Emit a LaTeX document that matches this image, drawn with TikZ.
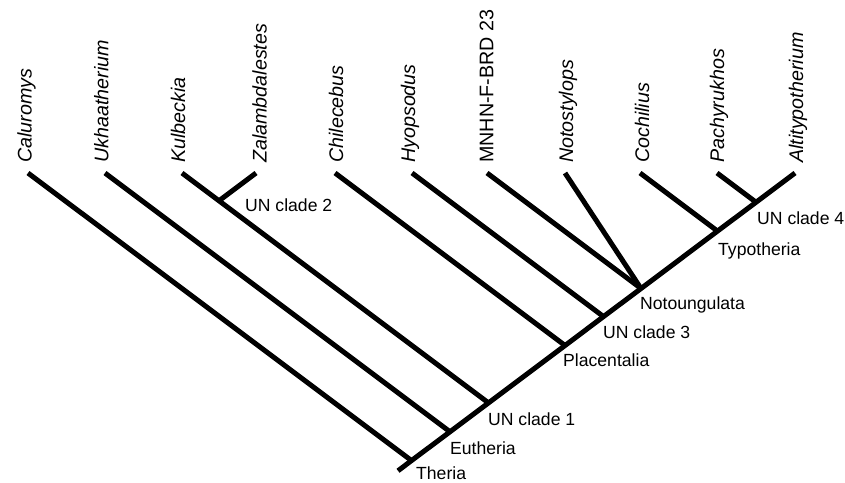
\documentclass[tikz,border=0pt]{standalone}
\usepackage{fontspec}
\setmainfont{Liberation Sans}
\usetikzlibrary{positioning,calc}

\tikzset{
  branch/.style={line width=5pt},
  taxon/.style={rotate=90,anchor=base west,inner sep=0pt,font=\fontsize{19.7}{22}\selectfont},
  clade/.style={anchor=north west,inner sep=0pt,font=\fontsize{17.6}{20}\selectfont},
}

\begin{document}
\begin{tikzpicture}[x=1pt,y=-1pt]
    \useasboundingbox (0,0) rectangle (845,482);
    % Tips
    \foreach \n/\x in {cal/28,ukh/105,kul/182,zal/256,chi/335,hyo/412,mnhn/487,not/565,coc/640,pac/717,alt/795} {
        \coordinate (\n) at (\x,173);
    }
    % Tip labels
    \foreach \n/\x/\t in {cal/31.7/\textit{Caluromys},ukh/108.3/\textit{Ukhaatherium},kul/185/\textit{Kulbeckia},
        zal/266.7/\textit{Zalambdalestes},chi/343/\textit{Chilecebus},hyo/415/\textit{Hyopsodus},
        mnhn/493.3/MNHN-F-BRD 23,not/573/\textit{Notostylops},coc/649/\textit{Cochilius},
        pac/724/\textit{Pachyrukhos},alt/803/\textit{Altitypotherium}} {
        \node[taxon] (l\n) at (\x,163) {\t};
    }
    % Clades
    \coordinate (root) at (398,470.75);
    \coordinate (theria) at (411.5,460.6);
    \coordinate (eutheria) at (450,431.75);
    \coordinate (un1) at (488.5,402.9);
    \coordinate (un2) at (219,200.75);
    \coordinate (placentalia) at (565,345.5);
    \coordinate (un3) at (603.5,316.6);
    \coordinate (notoung) at (641,288.5);
    \coordinate (typo) at (717.5,231.1);
    \coordinate (un4) at (756,202.25);
    % Clade labels
    \node[clade] (ltheria) at ([xshift=4.5pt,yshift=-5.5pt]theria) {Theria};
    \node[clade] (leutheria) at ([xshift=0pt,yshift=-10pt]eutheria) {Eutheria};
    \node[clade] (lun1) at ([xshift=-0.5pt,yshift=-10pt]un1) {UN clade 1};
    \node[clade] (lun2) at ([xshift=26pt,yshift=2.5pt]un2) {UN clade 2};
    \node[clade] (lplacentalia) at ([xshift=-2pt,yshift=-8.5pt]placentalia) {Placentalia};
    \node[clade] (lun3) at ([xshift=-0.5pt,yshift=-8.5pt]un3) {UN clade 3};
    \node[clade] (lnotoung) at ([xshift=-1pt,yshift=-8.5pt]notoung) {Notoungulata};
    \node[clade] (ltypo) at ([xshift=0.5pt,yshift=-11.5pt]typo) {Typotheria};
    \node[clade] (lun4) at ([xshift=1pt,yshift=-9.5pt]un4) {UN clade 4};
    % Branches
    \draw[branch] (root) -- (theria) -- (eutheria) -- (un1) -- (placentalia) -- (un3) -- (notoung) -- (typo) -- (un4) -- (alt);
    \foreach \a/\b in {cal/theria,ukh/eutheria,kul/un1,zal/un2,chi/placentalia,hyo/un3,mnhn/notoung,not/notoung,coc/typo,pac/un4} {
        \draw[branch] (\a) -- (\b);
    }
\end{tikzpicture}
\end{document}
